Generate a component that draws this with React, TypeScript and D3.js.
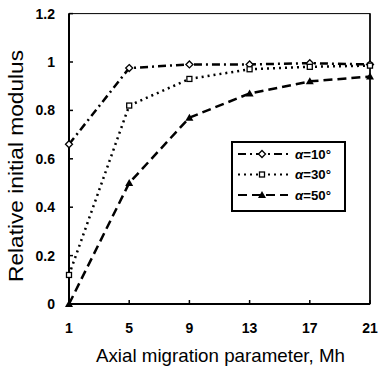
import React from "react";
import * as d3 from "d3";

const xValues = [1, 5, 9, 13, 17, 21];
const alpha10 = [0.66, 0.975, 0.99, 0.99, 0.995, 0.99];
const alpha30 = [0.12, 0.82, 0.93, 0.97, 0.98, 0.985];
const alpha50 = [0.0, 0.5, 0.77, 0.87, 0.92, 0.94];
const yTicks = [0, 0.2, 0.4, 0.6, 0.8, 1, 1.2];
const yTickLabels = ["0", "0.2", "0.4", "0.6", "0.8", "1", "1.2"];
const seriesLabels = ["10", "30", "50"];

export default function App() {
  const W = 378, H = 372;
  const x = d3.scaleLinear().domain([1, 21]).range([69, 370]);
  const y = d3.scaleLinear().domain([0, 1.2]).range([304, 13.6]);
  const line = d3.line<number>().x((_, i) => x(xValues[i])).y((d) => y(d));
  const series = [
    { data: alpha10, dash: "8,4,2,4", marker: "diamond" },
    { data: alpha30, dash: "2,4", marker: "square" },
    { data: alpha50, dash: "9,5", marker: "triangle" },
  ];
  const marker = (type: string, cx: number, cy: number, key: any) => {
    if (type === "diamond")
      return <path key={key} d={`M${cx},${cy - 3.5}L${cx + 3.5},${cy}L${cx},${cy + 3.5}L${cx - 3.5},${cy}Z`} fill="white" stroke="black" strokeWidth={1.3} />;
    if (type === "square")
      return <rect key={key} x={cx - 2.5} y={cy - 2.5} width={5} height={5} fill="white" stroke="black" strokeWidth={1.3} />;
    return <path key={key} d={`M${cx},${cy - 4}L${cx + 4},${cy + 3}L${cx - 4},${cy + 3}Z`} fill="black" />;
  };
  const font = "Arial, 'Liberation Sans', sans-serif";
  const legendY = [154, 174.5, 195];
  return (
    <svg width={W} height={H} style={{ position: "absolute", left: 0, top: 0 }}>
      <rect width={W} height={H} fill="white" />
      <rect x={69} y={13.6} width={301} height={290.4} fill="none" stroke="black" strokeWidth={1} />
      <line x1={69} y1={13.6} x2={69} y2={304} stroke="black" strokeWidth={2} />
      <line x1={69} y1={304} x2={370} y2={304} stroke="black" strokeWidth={2} />
      <line x1={370} y1={13.6} x2={370} y2={304} stroke="black" strokeWidth={1.5} />
      {yTicks.map((t, i) => (
        <g key={i}>
          <line x1={69} x2={73} y1={y(t)} y2={y(t)} stroke="black" strokeWidth={1.5} />
          <text x={55} y={y(t) + 5} textAnchor="end" fontFamily={font} fontWeight="bold" fontSize={14}>{yTickLabels[i]}</text>
        </g>
      ))}
      {xValues.map((t, i) => (
        <g key={i}>
          <line x1={x(t)} x2={x(t)} y1={304} y2={300} stroke="black" strokeWidth={1.5} />
          <text x={x(t)} y={333} textAnchor="middle" fontFamily={font} fontWeight="bold" fontSize={14}>{t}</text>
        </g>
      ))}
      <text x={96} y={362} fontFamily={font} fontSize={19} textLength={249} lengthAdjust="spacingAndGlyphs">Axial migration parameter, Mh</text>
      <text transform="translate(23,282) rotate(-90)" fontFamily={font} fontSize={20} textLength={232} lengthAdjust="spacingAndGlyphs">Relative initial modulus</text>
      {series.map((s, si) => (
        <g key={si}>
          <path d={line(s.data) || ""} fill="none" stroke="black" strokeWidth={2.5} strokeDasharray={s.dash} />
          {s.data.map((d, i) => marker(s.marker, x(xValues[i]), y(d), i))}
        </g>
      ))}
      <rect x={232} y={142} width={113} height={69} fill="white" stroke="black" strokeWidth={2} />
      {series.map((s, si) => {
        const ly = legendY[si];
        return (
          <g key={si}>
            <line x1={238} x2={288} y1={ly} y2={ly} stroke="black" strokeWidth={2} strokeDasharray={s.dash} />
            {marker(s.marker, 262, ly, "m")}
            <text x={295} y={ly + 4.5} fontFamily={font} fontWeight="bold" fontSize={12} textLength={36} lengthAdjust="spacingAndGlyphs">
              <tspan fontStyle="italic">α</tspan>={seriesLabels[si]}°
            </text>
          </g>
        );
      })}
    </svg>
  );
}
